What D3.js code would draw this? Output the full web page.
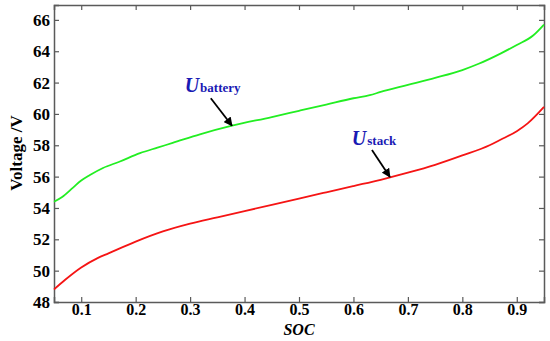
<!DOCTYPE html>
<html>
<head>
<meta charset="utf-8">
<script src="https://cdn.jsdelivr.net/npm/d3@7"></script>
<style>
  body { margin: 0; background: #fff; }
  text { font-family: "Liberation Serif", "Times New Roman", serif; font-weight: bold; }
</style>
</head>
<body>
<svg id="svg"></svg>
<script>
const socBattery = [0.05, 0.065, 0.085, 0.1, 0.116, 0.14, 0.17, 0.208, 0.24, 0.268, 0.318, 0.377, 0.45, 0.5, 0.55, 0.6, 0.63, 0.65, 0.7, 0.75, 0.8, 0.83, 0.87, 0.9, 0.93, 0.95];
const uBattery = [54.4, 54.7, 55.3, 55.75, 56.1, 56.55, 56.95, 57.5, 57.85, 58.15, 58.7, 59.25, 59.8, 60.2, 60.6, 61.0, 61.2, 61.4, 61.85, 62.3, 62.8, 63.2, 63.85, 64.4, 65.0, 65.7];

const socStack = [0.05, 0.07, 0.1, 0.13, 0.15, 0.2, 0.25, 0.3, 0.35, 0.4, 0.45, 0.5, 0.55, 0.6, 0.65, 0.7, 0.75, 0.8, 0.85, 0.87, 0.9, 0.92, 0.95];
const uStack = [48.8, 49.4, 50.2, 50.8, 51.1, 51.85, 52.5, 53.0, 53.4, 53.8, 54.2, 54.6, 55.0, 55.4, 55.8, 56.25, 56.75, 57.35, 58.0, 58.35, 58.9, 59.4, 60.45];

const xTicks = [0.1, 0.2, 0.3, 0.4, 0.5, 0.6, 0.7, 0.8, 0.9];
const yTicks = [48, 50, 52, 54, 56, 58, 60, 62, 64, 66];

const width = 550;
const height = 341;
const margin = { left: 54, right: 6, top: 5, bottom: 39 };

const svg = d3.select('#svg')
  .attr('width', width)
  .attr('height', height);

const x = d3.scaleLinear()
  .domain([0.05, 0.95])
  .range([margin.left, width - margin.right]);

const y = d3.scaleLinear()
  .domain([48, 66.95])
  .range([height - margin.bottom, margin.top]);

const axisColor = '#5a5a5a';

// inward ticks on all four sides
const axisBottomG = svg.append('g')
  .attr('transform', 'translate(0,' + (height - margin.bottom) + ')')
  .call(d3.axisBottom(x).tickValues(xTicks).tickSize(-5).tickPadding(2).tickFormat(d3.format('.1f')));
const axisTopG = svg.append('g')
  .attr('transform', 'translate(0,' + margin.top + ')')
  .call(d3.axisTop(x).tickValues(xTicks).tickSize(-5).tickFormat(''));
const axisLeftG = svg.append('g')
  .attr('transform', 'translate(' + margin.left + ',0)')
  .call(d3.axisLeft(y).tickValues(yTicks).tickSize(-5).tickPadding(4));
const axisRightG = svg.append('g')
  .attr('transform', 'translate(' + (width - margin.right) + ',0)')
  .call(d3.axisRight(y).tickValues(yTicks).tickSize(-5).tickFormat(''));

[axisBottomG, axisTopG, axisLeftG, axisRightG].forEach(g => {
  g.attr('font-family', null).attr('font-size', null);
  g.select('.domain').attr('stroke', axisColor).attr('stroke-width', 1.5);
  g.selectAll('.tick line').attr('stroke', axisColor).attr('stroke-width', 1.2);
  g.selectAll('text').attr('font-size', 17).attr('fill', '#000');
});
axisBottomG.selectAll('text').attr('font-size', 16);

const line = d3.line()
  .x(d => x(d[0]))
  .y(d => y(d[1]))
  .curve(d3.curveMonotoneX);

svg.append('path')
  .datum(d3.zip(socBattery, uBattery))
  .attr('fill', 'none')
  .attr('stroke', '#22ee22')
  .attr('stroke-width', 1.8)
  .attr('d', line);

svg.append('path')
  .datum(d3.zip(socStack, uStack))
  .attr('fill', 'none')
  .attr('stroke', '#f51414')
  .attr('stroke-width', 1.8)
  .attr('d', line);

// axis titles
svg.append('text')
  .attr('x', x(0.5))
  .attr('y', 335)
  .attr('text-anchor', 'middle')
  .attr('font-size', 16)
  .attr('font-style', 'italic')
  .text('SOC');

svg.append('text')
  .attr('transform', 'translate(22,153) rotate(-90)')
  .attr('text-anchor', 'middle')
  .attr('font-size', 17)
  .text('Voltage /V');

// annotations
svg.append('defs').append('marker')
  .attr('id', 'arrow')
  .attr('viewBox', '0 0 10 10')
  .attr('refX', 9)
  .attr('refY', 5)
  .attr('markerWidth', 5)
  .attr('markerHeight', 5)
  .attr('orient', 'auto')
  .append('path')
  .attr('d', 'M0,0L10,5L0,10z')
  .attr('fill', '#000');

const labels = [
  { name: 'battery', sx: 0.29, sy: 61.4, fx: 0.338, fy: 61.0, tx: 0.377, ty: 59.25 },
  { name: 'stack', sx: 0.597, sy: 58.0, fx: 0.634, fy: 57.7, tx: 0.667, ty: 55.98 }
];

labels.forEach(l => {
  const t = svg.append('text')
    .attr('x', x(l.sx))
    .attr('y', y(l.sy))
    .attr('fill', '#1a1ab4');
  t.append('tspan').attr('font-size', 20).attr('font-style', 'italic').text('U');
  t.append('tspan').attr('font-size', 13).attr('dx', 1).text(l.name);

  svg.append('line')
    .attr('x1', x(l.fx))
    .attr('y1', y(l.fy))
    .attr('x2', x(l.tx))
    .attr('y2', y(l.ty))
    .attr('stroke', '#000')
    .attr('stroke-width', 1.8)
    .attr('marker-end', 'url(#arrow)');
});
</script>
</body>
</html>
